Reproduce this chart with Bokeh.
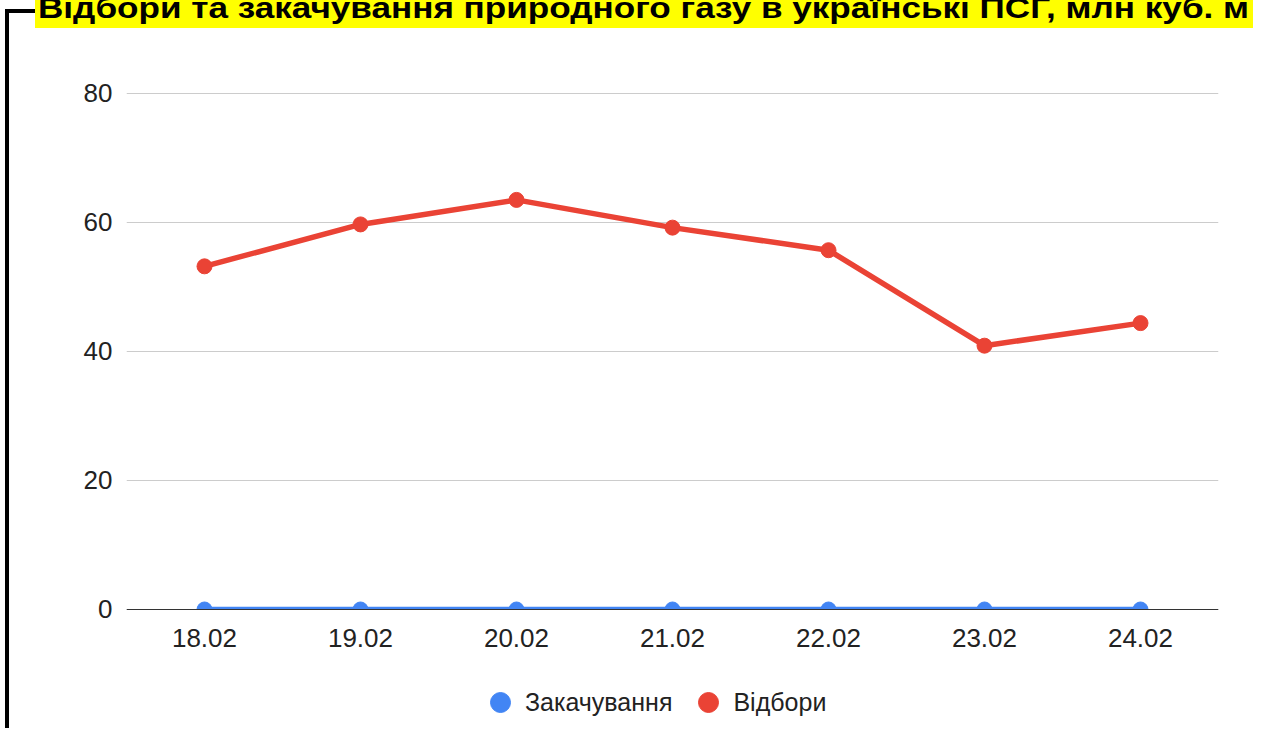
from bokeh.plotting import figure
from bokeh.models import (ColumnDataSource, Legend, LegendItem, FixedTicker, Range1d,
                          FactorRange, Div, BoxAnnotation)
from bokeh.layouts import row, column
from bokeh.embed import file_html
from bokeh.resources import INLINE

# ---- data ----
dates = ["18.02", "19.02", "20.02", "21.02", "22.02", "23.02", "24.02"]
vidbory = [53.2, 59.7, 63.5, 59.2, 55.7, 40.9, 44.4]          # Відбори
zakachuvannia = [0, 0, 0, 0, 0, 0, 0]                          # Закачування
y_ticks = [0, 20, 40, 60, 80]
title_text = "Відбори та закачування природного газу в українські ПСГ, млн куб. м"

RED = "#EA4335"
BLUE = "#4285F4"
FONT = "Liberation Sans"

src = ColumnDataSource(dict(d=dates, v=vidbory, z=zakachuvannia))

# frame extends below zero so the legend can sit inside it; x axis is pinned at y = 0
p = figure(width=1244, height=700, x_range=FactorRange(*dates), y_range=Range1d(-18.45, 80.15),
           output_backend="svg", toolbar_location=None, title=None,
           min_border_left=117, min_border_right=35, min_border_top=64, min_border_bottom=0)
p.outline_line_color = None
p.background_fill_color = "white"
p.border_fill_color = "white"

# grid
p.xgrid.grid_line_color = None
p.ygrid.grid_line_color = "#cccccc"
p.ygrid.grid_line_width = 1

# axes
p.yaxis.ticker = FixedTicker(ticks=y_ticks)
p.yaxis.axis_line_color = None
p.yaxis.major_tick_line_color = None
p.yaxis.minor_tick_line_color = None
p.yaxis.major_label_standoff = 8
p.yaxis.major_label_text_font = FONT
p.yaxis.major_label_text_font_size = "26px"
p.yaxis.major_label_text_color = "#222222"

p.xaxis.fixed_location = 0
p.xaxis.axis_line_color = "#333333"
p.xaxis.axis_line_width = 1
p.xaxis.major_tick_line_color = None
p.xaxis.minor_tick_line_color = None
p.xaxis.major_label_standoff = 14
p.xaxis.major_label_text_font = FONT
p.xaxis.major_label_text_font_size = "26px"
p.xaxis.major_label_text_color = "#222222"

# series
p.line("d", "z", source=src, line_color=BLUE, line_width=5.5)
zs = p.scatter("d", "z", source=src, size=15, fill_color=BLUE, line_color=BLUE)
p.line("d", "v", source=src, line_color=RED, line_width=5.5)
vs = p.scatter("d", "v", source=src, size=15, fill_color=RED, line_color=RED)

# mask below zero (emulates clipping of the plot area at the zero line)
p.add_layout(BoxAnnotation(top=0, fill_color="white", fill_alpha=1, line_color=None,
                           level="glyph"))

legend = Legend(items=[LegendItem(label="Закачування", renderers=[zs]),
                       LegendItem(label="Відбори", renderers=[vs])],
                orientation="horizontal", location=(349, 1),
                glyph_width=50, glyph_height=50, label_standoff=-1, spacing=11,
                padding=0, margin=0, border_line_color=None, background_fill_alpha=0,
                label_text_font=FONT, label_text_font_size="25px", label_text_color="#222222")
p.add_layout(legend, "center")

# left black frame line
left_html = ('<div style="position:relative;width:9px;height:728px;">'
             '<div style="position:absolute;left:5px;top:9px;width:4px;height:719px;'
             'background:#000;"></div></div>')
left_div = Div(text=left_html, width=9, height=728, margin=0)

# header: short top frame line + yellow highlighted title (wide heavy lettering)
header_html = (
    '<div style="position:relative;width:1244px;height:28px;overflow:hidden;">'
    '<div style="position:absolute;left:0px;top:9px;width:26px;height:4px;background:#000;"></div>'
    '<div style="position:absolute;left:26px;top:0px;width:1218px;height:28px;'
    'background:#ffff00;overflow:hidden;">'
    '<div style="position:absolute;left:3px;top:-7px;white-space:nowrap;'
    "font-family:'Liberation Sans';font-weight:bold;font-size:30px;line-height:30px;"
    'transform:scaleX(1.17);transform-origin:0 0;'
    'color:#000;">' + title_text + '</div></div></div>')
header_div = Div(text=header_html, width=1244, height=28, margin=0)

layout = row(left_div, column(header_div, p, spacing=0), spacing=0)

open("out.html", "w").write(file_html(layout, INLINE))
